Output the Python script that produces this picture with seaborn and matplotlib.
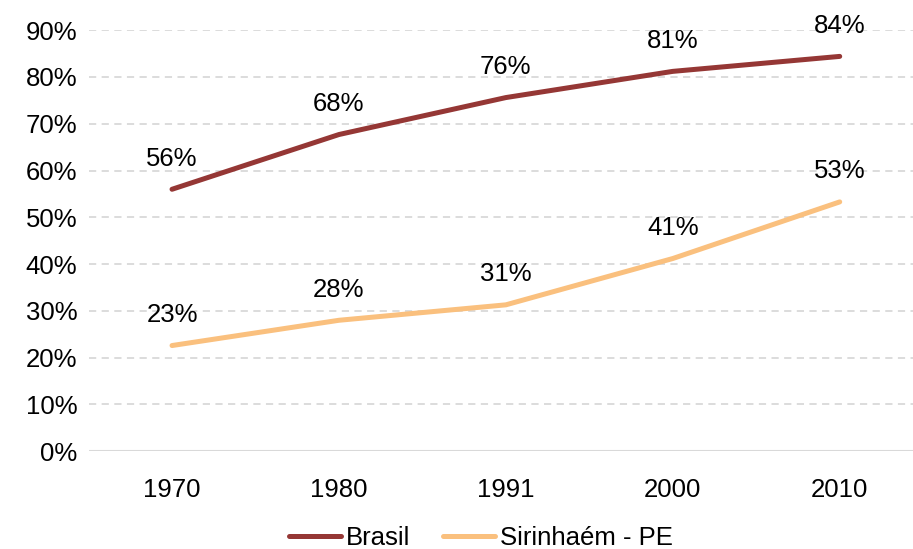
import pandas as pd
import seaborn as sns
import matplotlib.pyplot as plt
from matplotlib.ticker import PercentFormatter

# =========================
# DATA
# =========================

YEARS = ["1970", "1980", "1991", "2000", "2010"]
BRASIL = [56.0, 67.7, 75.6, 81.2, 84.4]
SIRINHAEM = [22.6, 28.0, 31.3, 41.2, 53.3]
SERIES = ["Brasil", "Sirinhaém - PE"]
COLORS = ["#953735", "#FAC07E"]

df = pd.concat([
    pd.DataFrame({"ano": YEARS, "valor": BRASIL, "serie": SERIES[0]}),
    pd.DataFrame({"ano": YEARS, "valor": SIRINHAEM, "serie": SERIES[1]}),
])

# =========================
# PLOT
# =========================

sns.set_style("white")
plt.rcParams["font.family"] = ["Liberation Sans", "DejaVu Sans"]

fig = plt.figure(figsize=(9.13, 5.49), dpi=100)
ax = fig.add_axes([0.097, 0.178, 0.905, 0.767])

sns.lineplot(
    data=df, x="ano", y="valor", hue="serie",
    palette=COLORS, linewidth=3.6, sort=False, ax=ax,
    solid_capstyle="round",
)

# data labels
for vals in (BRASIL, SIRINHAEM):
    for i, v in enumerate(vals):
        ax.annotate(f"{v:.0f}%", (i, v), xytext=(0, 22), textcoords="offset points",
                    ha="center", va="center", fontsize=18.5, color="black")

ax.set_ylim(0, 90)
ax.set_xlim(-0.5, 4.45)
ax.set_yticks(range(0, 91, 10))
ax.yaxis.set_major_formatter(PercentFormatter(decimals=0))
ax.grid(axis="y", color="#D9D9D9", linestyle=(0, (4, 3)), linewidth=1.3)
ax.grid(axis="x", visible=False)
ax.axhline(0, color="#D9D9D9", linewidth=1.5, zorder=1)
sns.despine(ax=ax, left=True, bottom=True)
ax.tick_params(axis="both", labelsize=18.5, length=0, pad=8, labelcolor="black")
ax.tick_params(axis="x", pad=19)
ax.set_xlabel("")
ax.set_ylabel("")

leg = ax.legend(
    loc="lower center", bbox_to_anchor=(0.475, -0.29), ncol=2, frameon=False,
    fontsize=18.5, handlelength=2.0, handletextpad=0.2, columnspacing=1.3,
    title=None,
)
for t in leg.get_texts():
    t.set_color("black")

plt.savefig("out.png", dpi=100)
